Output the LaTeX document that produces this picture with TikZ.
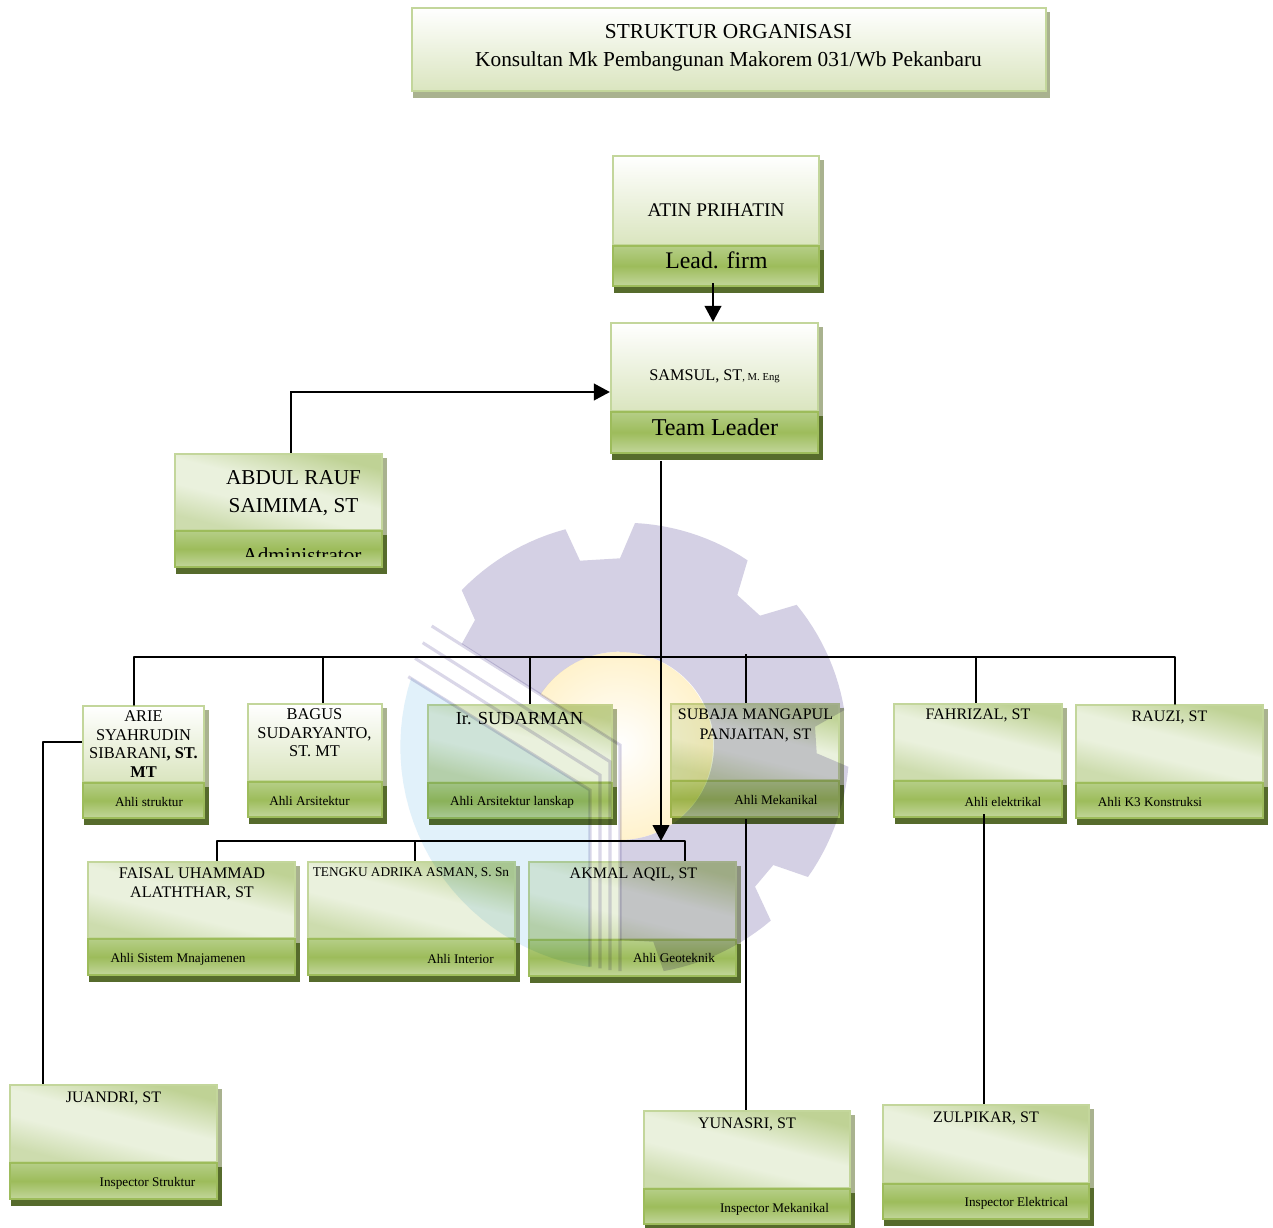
\documentclass[tikz,border=0pt]{standalone}
\usepackage{fontspec}
\setmainfont{Liberation Serif}
\usetikzlibrary{arrows.meta,fit,shadings}
\definecolor{headedge}{HTML}{C3D69B}
\definecolor{headlow}{HTML}{DAE5BF}
\definecolor{diagdark}{HTML}{BFD295}
\definecolor{diagsoft}{HTML}{CDDCAE}
\definecolor{diaglight}{HTML}{EAF1DD}
\definecolor{bandedge}{HTML}{9DBC5B}
\definecolor{bandtop}{HTML}{B5CE87}
\definecolor{bandmid}{HTML}{9DBC5B}
\definecolor{bandlow}{HTML}{C2D69B}
\definecolor{shadelight}{HTML}{A9B28F}
\definecolor{shadedark}{HTML}{566B2C}
\definecolor{wmgear}{HTML}{D4D0E4}
\definecolor{wmblue}{HTML}{E1F1FA}
\definecolor{wmyellow}{HTML}{FFF2CC}
\definecolor{wmline}{HTML}{DAD7E8}
\pgfdeclareverticalshading{diagband}{100bp}{color(0bp)=(diagsoft); color(27bp)=(diagsoft); color(42bp)=(diaglight); color(54bp)=(diaglight); color(73bp)=(diagdark); color(100bp)=(diagdark)}
\newcommand\fsz[1]{\fontsize{#1}{#1}\selectfont}
\newcommand\yellowpath{(620,652) arc[start angle=-90,end angle=90,radius=94] -- (620,745) -- (540.5,694.5) arc[start angle=-147,end angle=-90,radius=94] -- cycle}
\tikzset{
  x=0.75pt,y=-0.75pt,
  headv/.style={shade,top color=white,bottom color=headlow,draw=headedge,line width=1.7pt,inner sep=0pt},
  headd/.style={shade,shading=diagband,shading angle=-14,draw=headedge,line width=1.7pt,inner sep=0pt},
  bandbox/.style={shade,top color=bandtop,bottom color=bandlow,middle color=bandmid,draw=bandedge,line width=1.7pt,inner sep=0pt},
  txt/.style={inner sep=0pt,align=center,text=black},
  conn/.style={line width=1.5pt,draw=black},
  arr/.style={conn,-{Triangle[length=12pt,width=12.5pt]}},
  stripe/.style={line width=2.3pt,draw=wmline},
}
% name x0 y0 x1 ymid y1 headstyle
\newcommand\orgbox[7]{%
  \fill[shadelight] (#2+3,#3+5) rectangle (#4+3.5,#5+5);
  \fill[shadedark] (#2+2,#5+5) rectangle (#4+3.5,#6+5.5);
  \node[#7,fit={(#2+1,#3+1) (#4-1,#5)}] (#1t) {};
  \node[bandbox,fit={(#2+1,#5+1) (#4-1,#6-1)}] (#1b) {};
}
\begin{document}
\begin{tikzpicture}
\useasboundingbox (0,0) rectangle (1273,1227);
\fill[white] (0,0) rectangle (1273,1227);

% title
\fill[shadelight] (413,12) rectangle (1050,98);
\node[headv,fit={(412,8) (1046,91)}] (title) {};
\node[txt,font=\fontsize{16}{21}\selectfont] (titletxt) at (728.5,47.5) {STRUKTUR ORGANISASI\\Konsultan Mk Pembangunan Makorem 031/Wb Pekanbaru};

% boxes
\orgbox{atin}{612}{155}{820}{245}{287}{headv}
\orgbox{sam}{610}{322}{819}{411}{454}{headv}
\orgbox{abdul}{174}{453}{383}{530}{568}{headd}
\orgbox{arie}{82}{705}{205}{782}{819}{headv}
\orgbox{bagus}{247}{703}{383}{781}{818}{headv}
\orgbox{sudar}{427}{704}{613}{782}{819}{headd}
\orgbox{subaja}{670}{703}{840}{780}{818}{headd}
\orgbox{fahri}{893}{703}{1063}{780}{818}{headd}
\orgbox{rauzi}{1075}{704}{1264}{782}{819}{headd}
\orgbox{faisal}{87}{861}{296}{938}{976}{headd}
\orgbox{tengku}{307}{861}{516}{938}{976}{headd}
\orgbox{akmal}{528}{861}{737}{939}{977}{headd}
\orgbox{juandri}{9}{1084}{218}{1162}{1200}{headd}
\orgbox{yunasri}{643}{1110}{851}{1188}{1225}{headd}
\orgbox{zulpikar}{882}{1104}{1090}{1183}{1220}{headd}

% connector guide coordinates
\coordinate (xatin) at (713,283);
\coordinate (yadmin) at (291,392);
\coordinate (ymain) at (661,460);
\coordinate (busa) at (134,657);
\coordinate (busb) at (323,657);
\coordinate (busc) at (530,657);
\coordinate (busd) at (746,654);
\coordinate (buse) at (976,657);
\coordinate (busf) at (1175,657);
\coordinate (busg) at (217,841);
\coordinate (bush) at (415,841);
\coordinate (busi) at (685,841);
\coordinate (main2) at (661,841);
\coordinate (jl) at (43,742);
\coordinate (ylow) at (746,819);
\coordinate (zlow) at (984,814);
\path (samb.south -| ymain) coordinate (mstart);

% connectors
\draw[arr] (xatin) -- (samt.north -| xatin);
\draw[arr] (abdult.north -| yadmin) -- (yadmin) -- (samt.west |- yadmin);
\draw[conn,line cap=round,line join=round] (ariet.north -| busa) -- (busa) -- (busf) -- (rauzit.north -| busf);
\draw[conn] (bagust.north -| busb) -- (busb);
\draw[conn] (sudart.north -| busc) -- (busc);
\draw[conn] (subajat.north -| busd) -- (busd);
\draw[conn] (fahrit.north -| buse) -- (buse);
\draw[arr] ([yshift=-5pt]mstart) -- (main2);
\draw[conn,line join=round] (faisalt.north -| busg) -- (busg) -- (busi) -- (akmalt.north -| busi);
\draw[conn] (tengkut.north -| bush) -- (bush);
\draw[conn,line join=round] (ariet.west |- jl) -- (jl) -- (juandrit.north -| jl);
\draw[conn] (ylow) -- (yunasrit.north -| ylow);
\draw[conn] (zlow) -- (zulpikart.north -| zlow);

% texts
\node[txt,font=\fsz{14.5}] (t1) at (716,210) {ATIN PRIHATIN};
\node[txt,font=\fsz{17.8}] (t2) at (716.5,260) {Lead. firm};
\node[txt,font=\fsz{12.2}] (t3) at (714.5,376) {SAMSUL, ST{\fsz{8}, M. Eng}};
\node[txt,font=\fsz{18.1}] (t4) at (715,427.5) {Team Leader};
\node[txt,font=\fontsize{15.9}{21}\selectfont] (t5) at (293.5,493.5) {ABDUL RAUF\\SAIMIMA, ST};
\begin{scope}
\clip (174,531) rectangle (383,556);
\node[txt,font=\fsz{15.9},anchor=base] (t6) at (302,562) {Administrator};
\end{scope}
\node[txt,font=\fontsize{12.3}{14}\selectfont] (t7) at (143.5,744) {ARIE\\SYAHRUDIN\\SIBARANI\textbf{, ST.}\\\textbf{MT}};
\node[txt,font=\fsz{9.9}] (t8) at (149,802) {Ahli struktur};
\node[txt,font=\fontsize{12.3}{14}\selectfont] (t9) at (314.5,733) {BAGUS\\SUDARYANTO,\\ST. MT};
\node[txt,font=\fsz{9.9}] (t10) at (309.5,801) {Ahli Arsitektur};
\node[txt,font=\fsz{13.8}] (t11) at (519.5,718.5) {Ir. SUDARMAN};
\node[txt,font=\fsz{9.9}] (t12) at (512,802) {Ahli Arsitektur lanskap};
\node[txt,font=\fontsize{12}{15}\selectfont] (t13) at (755.5,725.5) {SUBAJA MANGAPUL\\PANJAITAN, ST};
\node[txt,font=\fsz{9.9}] (t14) at (776,800) {Ahli Mekanikal};
\node[txt,font=\fsz{12}] (t15) at (978,715) {FAHRIZAL, ST};
\node[txt,font=\fsz{9.9}] (t16) at (1003,801.5) {Ahli elektrikal};
\node[txt,font=\fsz{12}] (t17) at (1169.5,717) {RAUZI, ST};
\node[txt,font=\fsz{9.9}] (t18) at (1150,802) {Ahli K3 Konstruksi};
\node[txt,font=\fontsize{12.1}{14.2}\selectfont] (t19) at (192,883.5) {FAISAL UHAMMAD\\ALATHTHAR, ST};
\node[txt,font=\fsz{9.9}] (t20) at (178,959) {Ahli Sistem Mnajamenen};
\node[txt,font=\fsz{10}] (t21) at (411,873) {TENGKU ADRIKA ASMAN, S. Sn};
\node[txt,font=\fsz{9.9}] (t22) at (460.5,959) {Ahli Interior};
\node[txt,font=\fsz{12}] (t23) at (633.5,874) {AKMAL AQIL, ST};
\node[txt,font=\fsz{9.9}] (t24) at (674,958) {Ahli Geoteknik};
\node[txt,font=\fsz{12}] (t25) at (113.5,1098) {JUANDRI, ST};
\node[txt,font=\fsz{9.9}] (t26) at (147.5,1183) {Inspector Struktur};
\node[txt,font=\fsz{12}] (t27) at (747,1124) {YUNASRI, ST};
\node[txt,font=\fsz{9.9}] (t28) at (774.5,1209) {Inspector Mekanikal};
\node[txt,font=\fsz{12}] (t29) at (986,1118) {ZULPIKAR, ST};
\node[txt,font=\fsz{9.9}] (t30) at (1016.5,1203) {Inspector Elektrical};

% watermark
\begin{scope}[blend mode=multiply]
\fill[wmblue] plot[domain=98.6:198,samples=30] ({623.3+223*cos(\x)},{746.7+223*sin(\x)}) -- (590,790) -- (590,967) -- cycle;
\fill[wmgear,even odd rule] plot[domain=224.1:255.1,samples=14] ({623.3+225*cos(\x)},{746.7+225*sin(\x)})
  -- (580,560.7) -- (620,558.3)
  -- plot[domain=273:303.7,samples=14] ({623.3+224*cos(\x)},{746.7+224*sin(\x)})
  -- (737.3,595) -- (760,615.7)
  -- plot[domain=320.7:350.6,samples=14] ({623.3+224*cos(\x)},{746.7+224*sin(\x)})
  -- (815,726.7) -- (816.7,753.3)
  -- plot[domain=365.1:395.2,samples=14] ({623.3+226*cos(\x)},{746.7+226*sin(\x)})
  -- (773.3,865) -- (755,886.7)
  -- plot[domain=409.7:439.8,samples=14] ({623.3+228*cos(\x)},{746.7+228*sin(\x)})
  -- (653.3,941.7) -- (620,940) -- (620,745) -- (461.7,644) -- (475,620) -- cycle
  \yellowpath;
\begin{scope}
\clip \yellowpath;
\shade[inner color=white,outer color=wmyellow] (619,746) circle (94);
\end{scope}
\draw[stripe] (431.7,626) -- (620,745) -- (620,971);
\draw[stripe] (422.7,642.7) -- (610,761.7) -- (610,970);
\draw[stripe] (415,658.3) -- (600,775) -- (600,968.3);
\draw[stripe] (408.3,676.7) -- (590,790) -- (590,966.7);
\end{scope}
\end{tikzpicture}
\end{document}
